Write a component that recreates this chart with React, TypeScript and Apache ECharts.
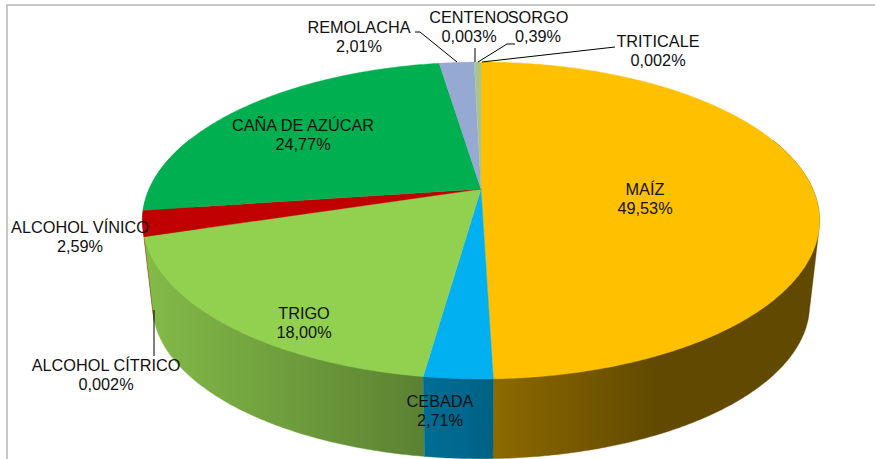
import React, { useEffect, useRef } from "react";
import * as echarts from "echarts";

// Data, clockwise from 12 o'clock
const names = ["MAÍZ", "CEBADA", "TRIGO", "ALCOHOL CÍTRICO", "ALCOHOL VÍNICO", "CAÑA DE AZÚCAR", "REMOLACHA", "CENTENO", "SORGO", "TRITICALE"];
const shares = [49.53, 2.71, 18.0, 0.002, 2.59, 24.77, 2.01, 0.003, 0.39, 0.002];
const colors = ["#ffc000", "#00b0f0", "#92d050", "#c0504d", "#c00000", "#00b050", "#95a9d2", "#a9c48e", "#a9c48e", "#a9c48e"];

// Label anchors, same order as names
const labelX = [645, 440, 304, 106, 80, 303, 359, 469, 538, 658];
const labelY = [198, 410, 322, 374, 236, 134, 36, 26, 26, 50];

// Leader lines [x1,y1,x2,y2,...] polyline points
const leaders = [
  [154, 310, 154, 356],
  [415, 32, 420, 32, 457, 62],
  [475, 48, 475, 62],
  [515, 44, 507, 44, 478, 62],
  [615, 47, 482, 62],
];

const total = shares.reduce((a, b) => a + b, 0);
const cumulative: number[] = [];
shares.reduce((acc, v) => {
  cumulative.push(acc);
  return acc + v;
}, 0);
const sliceData = shares.map((v, i) => [cumulative[i], cumulative[i] + v, i]);

const fmt = (v: number) => (v < 0.01 ? v.toFixed(3) : v.toFixed(2)).replace(".", ",") + "%";

// Perspective projection of the disc
const K = 0.1987;
const topDisc = { cx: 481, y0: 189, b: 331.8, a: 152.2 };
const baseDisc = { cx: 481, y0: 274.5, b: 322, a: 147.6 };
const project = (d: typeof topDisc, theta: number) => {
  const u = Math.sin(theta);
  const v = Math.cos(theta);
  const w = 1 + K * v;
  return [d.cx + (d.b * u) / w, d.y0 - (d.a * v) / w];
};
const arc = (d: typeof topDisc, t0: number, t1: number) => {
  const n = Math.max(2, Math.ceil(Math.abs(t1 - t0) / 0.01));
  const pts: number[][] = [];
  for (let i = 0; i <= n; i++) pts.push(project(d, t0 + ((t1 - t0) * i) / n));
  return pts;
};
const toTheta = (p: number) => (p / total) * Math.PI * 2;

// Swept side of a slice: the convex hull of its top and base arcs
const hull = (points: number[][]) => {
  const pts = [...points].sort((a, b) => a[0] - b[0] || a[1] - b[1]);
  const cross = (o: number[], a: number[], b: number[]) =>
    (a[0] - o[0]) * (b[1] - o[1]) - (a[1] - o[1]) * (b[0] - o[0]);
  const half = (list: number[][]) => {
    const out: number[][] = [];
    for (const p of list) {
      while (out.length >= 2 && cross(out[out.length - 2], out[out.length - 1], p) <= 0) out.pop();
      out.push(p);
    }
    out.pop();
    return out;
  };
  return [...half(pts), ...half([...pts].reverse())];
};

const shadeStops = [
  [0, 0.9],
  [0.417, 0.62],
  [0.52, 0.55],
  [0.76, 0.38],
  [1, 0.38],
];
const wallFill = (hex: string) => {
  const r = parseInt(hex.slice(1, 3), 16);
  const g = parseInt(hex.slice(3, 5), 16);
  const b = parseInt(hex.slice(5, 7), 16);
  return new echarts.graphic.LinearGradient(
    143, 0, 820, 0,
    shadeStops.map(([offset, f]) => ({
      offset,
      color: `rgb(${Math.round(r * f)},${Math.round(g * f)},${Math.round(b * f)})`,
    })),
    true
  );
};

const renderTop = (_: any, api: any) => {
  const t0 = toTheta(api.value(0));
  const t1 = toTheta(api.value(1));
  const fill = colors[api.value(2)];
  const tiny = t1 - t0 < 0.001;
  return {
    type: "polygon",
    shape: { points: [[topDisc.cx, topDisc.y0], ...arc(topDisc, t0, t1)] },
    style: { fill, stroke: tiny ? "none" : fill, lineWidth: 0.4 },
  };
};

const renderWall = (_: any, api: any) => {
  const lo = (70 * Math.PI) / 180;
  const hi = (290 * Math.PI) / 180;
  const t0 = Math.max(toTheta(api.value(0)), lo);
  const t1 = Math.min(toTheta(api.value(1)), hi);
  if (t1 - t0 < 0.001) return null;
  const mid = (t0 + t1) / 2;
  const fill = wallFill(colors[api.value(2)]);
  return {
    type: "polygon",
    z2: Math.round(1000 - Math.abs(mid - Math.PI) * 100),
    shape: { points: hull([...arc(topDisc, t0, t1), ...arc(baseDisc, t0, t1)]) },
    style: { fill, stroke: fill, lineWidth: 0.4 },
  };
};

export default function App() {
  const ref = useRef<HTMLDivElement>(null);
  useEffect(() => {
    const chart = echarts.init(ref.current!, undefined, { renderer: "svg" });
    chart.setOption({
      animation: false,
      backgroundColor: "#ffffff",
      series: [
        { type: "custom", coordinateSystem: "none", renderItem: renderWall, data: sliceData, silent: true, z: 1 },
        { type: "custom", coordinateSystem: "none", renderItem: renderTop, data: sliceData, silent: true, z: 2 },
      ],
      graphic: [
        { type: "polyline", z: 5, shape: { points: [[7, 459], [7, 5], [875, 5]] }, style: { stroke: "#b5b5b5", lineWidth: 1.5, fill: "none" } },
        ...leaders.map((pts) => ({
          type: "polyline",
          z: 6,
          shape: { points: pts.reduce((acc: number[][], _, i) => (i % 2 ? acc : [...acc, [pts[i], pts[i + 1]]]), []) },
          style: { stroke: "#000", lineWidth: 1, fill: "none" },
        })),
        ...names.map((name, i) => ({
          type: "text",
          z: 7,
          x: labelX[i],
          y: labelY[i],
          style: {
            text: `${name}\n${fmt(shares[i])}`,
            font: "16.3px 'Liberation Sans', Arial, sans-serif",
            lineHeight: 19,
            fill: "#111",
            textAlign: "center",
            textVerticalAlign: "middle",
          },
        })),
      ],
    });
    return () => chart.dispose();
  }, []);
  return <div ref={ref} style={{ position: "absolute", left: 0, top: 0, width: 875, height: 459 }} />;
}
